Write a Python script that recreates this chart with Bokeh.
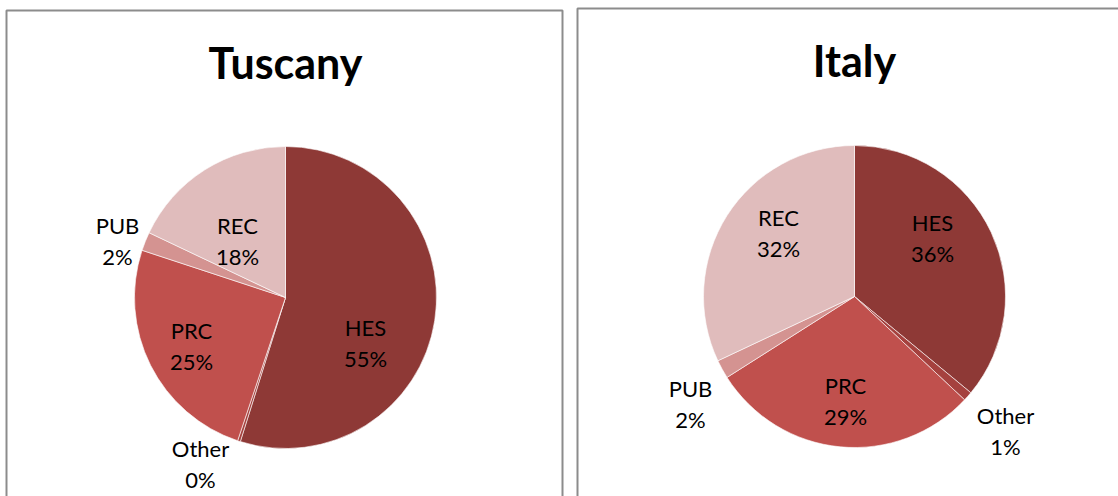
import math
from bokeh.plotting import figure
from bokeh.models import Range1d, ColumnDataSource
from bokeh.core.properties import value
from bokeh.embed import file_html
from bokeh.resources import INLINE

# ---- data ----
categories = ["HES", "Other", "PRC", "PUB", "REC"]
tuscany_values = [55.0, 0.3, 25.0, 2.0, 18.0]
tuscany_labels = ["55%", "0%", "25%", "2%", "18%"]
italy_values = [36.0, 1.0, 29.0, 2.0, 32.0]
italy_labels = ["36%", "1%", "29%", "2%", "32%"]
colors = ["#8E3936", "#A5413E", "#C0504D", "#D49391", "#E0BCBC"]

W, H = 1118, 496
FONT = "Lato"

p = figure(width=W, height=H, output_backend="svg", toolbar_location=None,
           x_range=Range1d(0, W), y_range=Range1d(0, H),
           min_border=0, outline_line_color=None)
p.axis.visible = False
p.grid.visible = False
p.background_fill_color = "white"
p.border_fill_color = "white"


def Y(py):
    # screen pixel y -> data y
    return H - py


# panel frames
p.quad(left=[6, 577], right=[562, 1130], top=[Y(10), Y(8)], bottom=[Y(520), Y(520)],
       fill_color=None, line_color="#8C8C8C", line_width=2)


def pie(cx, cy, r, vals, labs, title, tx, ty, label_pos):
    total = sum(vals)
    starts, ends = [], []
    cum = 0.0
    for v in vals:
        a0 = math.pi / 2 - 2 * math.pi * (cum + v) / total
        a1 = math.pi / 2 - 2 * math.pi * cum / total
        starts.append(a0)
        ends.append(a1)
        cum += v
    src = ColumnDataSource(dict(start=starts, end=ends, color=colors))
    p.wedge(x=cx, y=Y(cy), radius=r, start_angle="start", end_angle="end",
            fill_color="color", line_color="white", line_width=0.6, source=src)
    # labels
    xs, y1, y2, t1, t2 = [], [], [], [], []
    for cat, lab, (lx, ly) in zip(categories, labs, label_pos):
        xs.append(lx)
        y1.append(Y(ly - 15))
        y2.append(Y(ly + 16))
        t1.append(cat)
        t2.append(lab)
    p.text(x=xs + xs, y=y1 + y2, text=t1 + t2, text_align="center",
           text_baseline="middle", text_font=value(FONT),
           text_font_size="22px", text_color="black")
    p.text(x=[tx], y=[Y(ty)], text=[title], text_align="center",
           text_baseline="middle", text_font=value(FONT),
           text_font_size="43px", text_font_style="bold", text_color="black")


pie(285, 297, 151, tuscany_values, tuscany_labels, "Tuscany", 285, 62,
    [(365, 342), (200, 463), (191, 345), (117, 240), (237, 240)])
pie(854, 296, 151, italy_values, italy_labels, "Italy", 854, 60,
    [(932, 237), (1005, 430), (845, 400), (690, 403), (778, 232)])

open("out.html", "w").write(file_html(p, INLINE))
